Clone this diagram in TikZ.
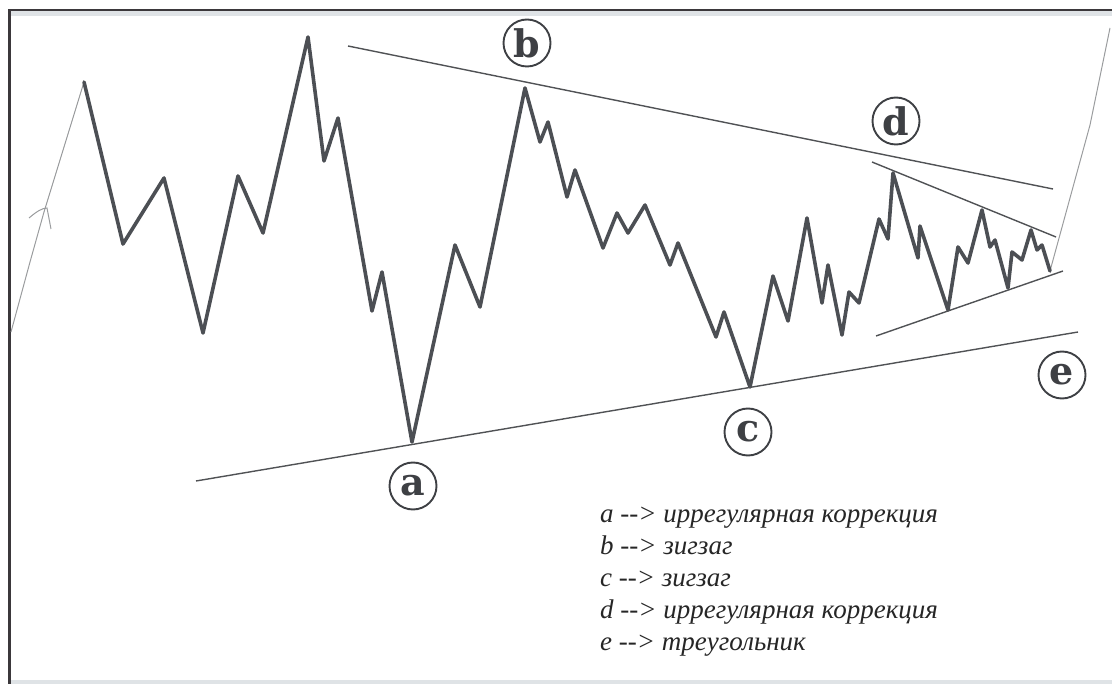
\documentclass[tikz,border=0pt]{standalone}
\usepackage{fontspec}
\newfontfamily\legendfont{Liberation Serif}
\newfontfamily\letterfont{DejaVu Serif}
\definecolor{ink}{HTML}{4C4F54}
\definecolor{lettink}{HTML}{3E4044}
\definecolor{trend}{HTML}{505255}
\definecolor{faint}{HTML}{9A9C9E}
\definecolor{frame}{HTML}{3B383B}
\definecolor{band}{HTML}{DFE3E6}
\tikzset{
  wave/.style={draw=ink, line width=3.6pt, line join=round, line cap=round},
  trendline/.style={draw=trend, line width=1.4pt},
  thinwave/.style={draw=faint, line width=1pt},
  letter/.style={circle, draw=lettink, line width=1.9pt, minimum size=47pt, inner sep=0pt,
    text=lettink, font=\letterfont\bfseries\fontsize{38}{38}\selectfont},
  legend/.style={anchor=base west, inner sep=0pt, align=left, text=black!85,
    font=\legendfont\itshape\fontsize{27}{32}\selectfont}
}
\begin{document}
\begin{tikzpicture}[x=1pt,y=-1pt]
\useasboundingbox (0,0) rectangle (1112,684);
% frame
\fill[band] (10,11) rectangle (1112,16.5);
\fill[band] (10,679.5) rectangle (1112,684);
\fill[frame] (8,8.8) rectangle (1112,11.3);
\fill[frame] (8,8.8) rectangle (10.6,684);
% thin waves before and after
\coordinate (start) at (11,332);
\coordinate (w0) at (84,82);
\coordinate (wend) at (1050,271);
\coordinate (exit) at (1110,28);
\draw[thinwave] (start) -- (30,262) -- (44,212) -- (w0);
\draw[thinwave] (29,218) .. controls (36,212) and (42,208) .. (47,208) -- (51,229);
\draw[thinwave] (wend) -- (1090,125) -- (exit);
% main wave
\draw[wave] (w0) -- (123,244) -- (164,178) -- (203,333) -- (238,176) -- (263,233)
  -- (308,37) -- (324,161) -- (338,118) -- (372,311) -- (382,272) -- (412,442)
  -- (455,245) -- (480,307) -- (525,88) -- (540,142) -- (548,122) -- (567,197)
  -- (575,170) -- (603,248) -- (617,213) -- (628,233) -- (645,205) -- (670,265)
  -- (678,243) -- (716,337) -- (724,312) -- (750,387) -- (773,276) -- (788,321)
  -- (807,218) -- (822,303) -- (828,265) -- (842,335) -- (849,292) -- (859,303)
  -- (879,219) -- (888,239) -- (893,173) -- (918,258) -- (920,226) -- (948,310)
  -- (958,247) -- (968,263) -- (982,210) -- (990,247) -- (995,240) -- (1008,288)
  -- (1012,252) -- (1022,260) -- (1031,230) -- (1037,250) -- (1042,245) -- (wend);
% trend lines
\coordinate (bd1) at (348,46);
\coordinate (bd2) at (1053,189);
\coordinate (ace1) at (196,481);
\coordinate (ace2) at (1078,332);
\coordinate (iu1) at (872,162);
\coordinate (iu2) at (1056,237);
\coordinate (il1) at (876,336);
\coordinate (il2) at (1063,271);
\draw[trendline] (bd1) -- (bd2);
\draw[trendline] (ace1) -- (ace2);
\draw[trendline] (iu1) -- (iu2);
\draw[trendline] (il1) -- (il2);
% circled letters
\node[letter] (la) at (413,486) {a};
\node[letter] (lb) at (527,43) {b};
\node[letter] (lc) at (748,432) {c};
\node[letter] (ld) at (896,121) {d};
\node[letter] (le) at (1062,375) {e};
% legend
\node[legend] (legend) at (600,650) {a -{}-> иррегулярная коррекция\\
b -{}-> зигзаг\\
c -{}-> зигзаг\\
d -{}-> иррегулярная коррекция\\
e -{}-> треугольник};
\end{tikzpicture}
\end{document}
